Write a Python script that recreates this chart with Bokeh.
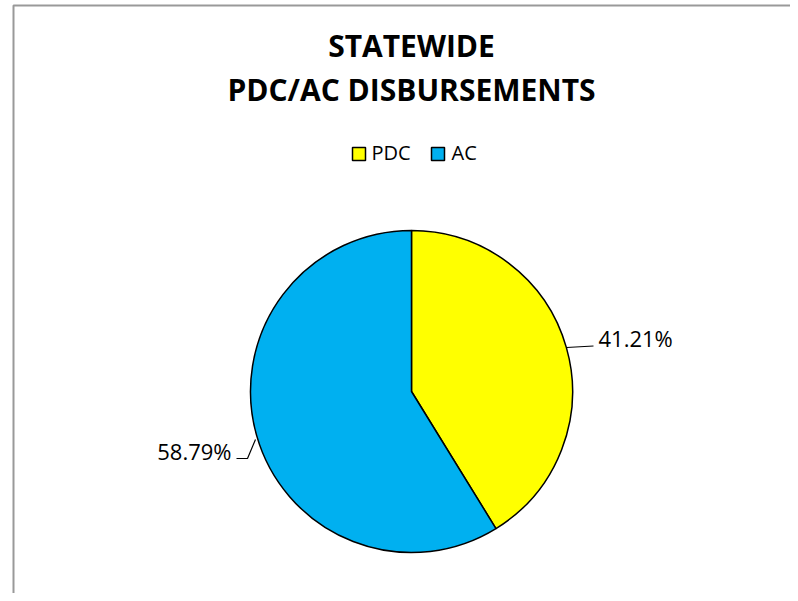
import math
from bokeh.plotting import figure
from bokeh.models import ColumnDataSource, Range1d
from bokeh.core.properties import value
from bokeh.embed import file_html
from bokeh.resources import INLINE

# ---- data ----
categories = ["PDC", "AC"]
shares = [41.21, 58.79]
colors = ["#FFFF00", "#00B0F0"]
title_lines = ["STATEWIDE", "PDC/AC DISBURSEMENTS"]

# ---- layout (picture pixel coordinates) ----
W, H = 790, 593
TOP = 0
LEFT = 0

def px(x):
    return x - LEFT

def py(y):
    return H - (y - TOP)

FONT = value("Open Sans")

p = figure(width=W, height=H, output_backend="svg", toolbar_location=None,
           x_range=Range1d(0, W), y_range=Range1d(0, H), min_border=0)
p.axis.visible = False
p.xgrid.visible = False
p.ygrid.visible = False
p.outline_line_color = None
p.background_fill_color = "white"
p.border_fill_color = "white"

# chart frame (left and top edges visible)
p.line(x=[px(13), px(13), W + 5], y=[-5, py(5), py(5)], line_color="#999999", line_width=2)

# title
p.text(x=[px(411)] * 2, y=[py(45), py(89)], text=title_lines,
       text_font=FONT, text_font_style="bold", text_font_size="30px",
       text_align="center", text_baseline="alphabetic", text_color="black")

# legend
leg_sq_x = [px(358.5), px(437.5)]
leg_tx_x = [px(371), px(451)]
p.scatter(x=leg_sq_x, y=[py(153.5)] * 2, marker="square", size=13,
          fill_color=colors, line_color="black", line_width=1.5)
p.text(x=leg_tx_x, y=[py(152)] * 2, text=categories, text_font=FONT,
       text_font_size="20px", text_align="left", text_baseline="alphabetic",
       text_color="black")

# pie
cx, cy, R = px(411), py(391), 161
total = sum(shares)
starts, ends = [], []
a = math.pi / 2
for s in shares:
    starts.append(a)
    a -= s / total * 2 * math.pi
    ends.append(a)
src = ColumnDataSource(dict(cat=categories, share=shares, color=colors,
                            start=starts, end=ends))
p.wedge(x=cx, y=cy, radius=R, radius_units="screen", start_angle="start",
        end_angle="end", direction="clock", fill_color="color",
        line_color="black", line_width=1.5, source=src)

# data labels with leader lines
labels = ["%.2f%%" % s for s in shares]
p.line(x=[px(566), px(593)], y=[py(347), py(345.5)], line_color="black", line_width=1.2)
p.line(x=[px(236), px(247), px(255)], y=[py(458), py(458), py(439)], line_color="black", line_width=1.2)
p.text(x=[px(598), px(231)], y=[py(337), py(450)], text=labels, text_font=FONT,
       text_font_size="22px", text_align=["left", "right"],
       text_baseline="alphabetic", text_color="black")

open("out.html", "w").write(file_html(p, INLINE))
